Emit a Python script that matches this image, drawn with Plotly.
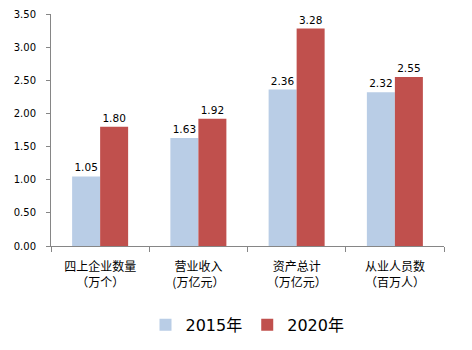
import plotly.graph_objects as go

categories = ["四上企业数量<br>（万个）", "营业收入<br>(万亿元）", "资产总计<br>（万亿元）", "从业人员数<br>（百万人）"]
values_2015 = [1.05, 1.63, 2.36, 2.32]
values_2020 = [1.80, 1.92, 3.28, 2.55]
y_ticks = [0, 0.5, 1.0, 1.5, 2.0, 2.5, 3.0, 3.5]

fig = go.Figure()
fig.add_trace(go.Bar(
    x=categories, y=values_2015, name="2015年",
    marker=dict(color="#B9CDE6", line=dict(width=0)),
    text=[f"{v:.2f}" for v in values_2015], textposition="outside",
    textfont=dict(family="DejaVu Sans", size=10.5, color="#000000"), cliponaxis=False,
))
fig.add_trace(go.Bar(
    x=categories, y=values_2020, name="2020年",
    marker=dict(color="#C0504D", line=dict(width=0)),
    text=[f"{v:.2f}" for v in values_2020], textposition="outside",
    textfont=dict(family="DejaVu Sans", size=10.5, color="#000000"), cliponaxis=False,
))

fig.update_layout(
    width=472, height=350,
    margin=dict(l=51, r=28, t=14, b=104, autoexpand=False),
    paper_bgcolor="white", plot_bgcolor="white",
    barmode="group", bargap=0.43, bargroupgap=0,
    font=dict(family="DejaVu Sans, Noto Sans CJK SC", color="#000000"),
    legend=dict(orientation="h", x=0.5, xanchor="center", y=-0.34, yanchor="middle",
                font=dict(family="DejaVu Sans, Noto Sans CJK SC", size=16),
                itemwidth=30, traceorder="normal"),
    showlegend=True,
)
fig.update_yaxes(
    range=[0, 3.5], tickvals=y_ticks, ticktext=[f"{v:.2f}" for v in y_ticks],
    showgrid=False, zeroline=False, showline=True, linecolor="#868686", linewidth=1,
    ticks="outside", ticklen=4, tickcolor="#868686", ticklabelstandoff=8,
    tickfont=dict(family="DejaVu Sans", size=10), automargin=False,
)
fig.update_xaxes(
    showgrid=False, showline=True, linecolor="#868686", linewidth=1,
    ticks="outside", ticklen=5, tickcolor="#868686", tickson="boundaries",
    ticklabelstandoff=10, automargin=False,
    tickfont=dict(family="Noto Sans CJK SC", size=12),
)

fig.write_html("out.html")
